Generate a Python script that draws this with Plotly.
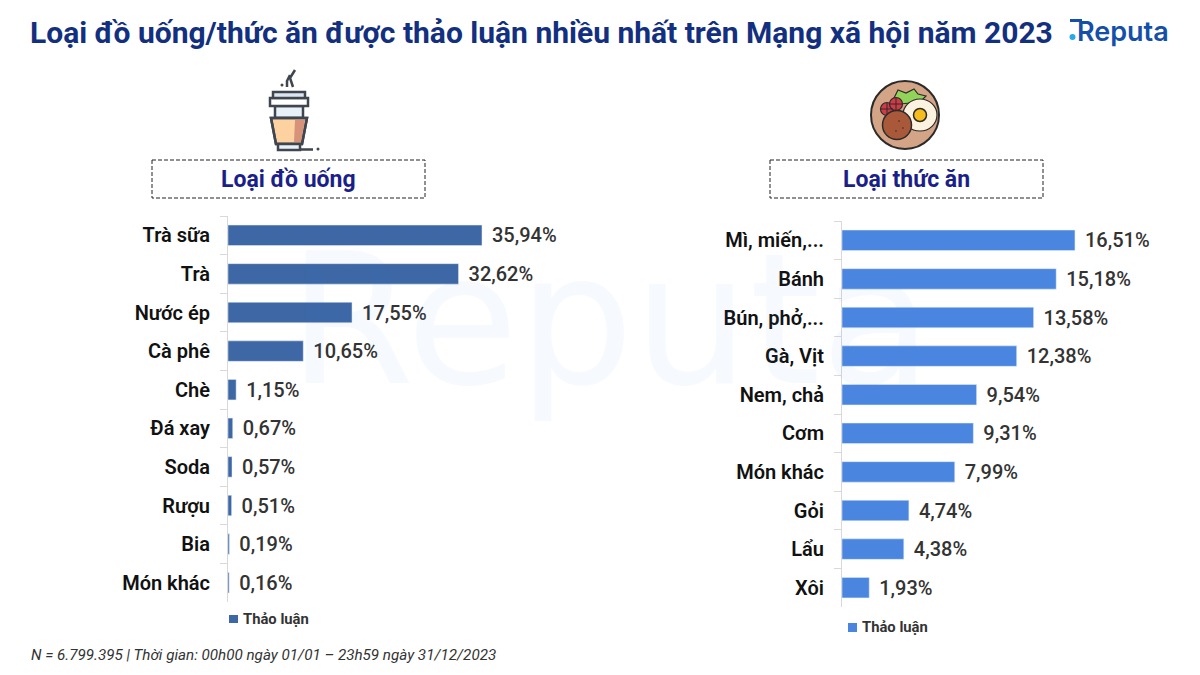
import plotly.graph_objects as go
from plotly.subplots import make_subplots

W, H = 1200, 675

drink_names = ["Trà sữa", "Trà", "Nước ép", "Cà phê", "Chè", "Đá xay", "Soda", "Rượu", "Bia", "Món khác"]
drink_values = [35.94, 32.62, 17.55, 10.65, 1.15, 0.67, 0.57, 0.51, 0.19, 0.16]
food_names = ["Mì, miến,...", "Bánh", "Bún, phở,...", "Gà, Vịt", "Nem, chả", "Cơm", "Món khác", "Gỏi", "Lẩu", "Xôi"]
food_values = [16.51, 15.18, 13.58, 12.38, 9.54, 9.31, 7.99, 4.74, 4.38, 1.93]

FONT = "Roboto"
NAVY = "#12307f"
DRINK_BLUE = "#3d67a5"
FOOD_BLUE = "#4a86e0"


def px(x):
    return x / W


def py(y):
    return 1 - y / H


def label(v):
    return "\u00a0\u200a" + f"{v:.2f}".replace(".", ",") + "%"


def add_text(fig, x, y, text, size, color, xanchor="center", weight=700, italic=False, family=FONT):
    fig.add_annotation(x=px(x), y=py(y), xref="paper", yref="paper", text=text, showarrow=False,
                       xanchor=xanchor, yanchor="middle", borderpad=0,
                       font=dict(family=family, size=size, color=color, weight=weight,
                                 style="italic" if italic else "normal"))


def rect(fig, x0, y0, x1, y1, fill=None, line=None, width=0, dash=None):
    fig.add_shape(type="rect", xref="paper", yref="paper", x0=px(x0), y0=py(y0), x1=px(x1), y1=py(y1),
                  fillcolor=fill, line=dict(color=line, width=width, dash=dash))


def circle(fig, cx, cy, rx, ry, fill=None, line=None, width=0):
    fig.add_shape(type="circle", xref="paper", yref="paper", x0=px(cx - rx), y0=py(cy - ry),
                  x1=px(cx + rx), y1=py(cy + ry), fillcolor=fill, line=dict(color=line, width=width))


def poly(fig, pts, fill=None, line=None, width=0, closed=True):
    path = "M " + " L ".join(f"{px(x)} {py(y)}" for x, y in pts) + (" Z" if closed else "")
    fig.add_shape(type="path", xref="paper", yref="paper", path=path, fillcolor=fill,
                  line=dict(color=line, width=width))


fig = make_subplots(rows=1, cols=2)

fig.add_trace(go.Bar(x=drink_values, y=drink_names, orientation="h", name="Thảo luận",
                     marker_color=DRINK_BLUE, text=[label(v) for v in drink_values],
                     textposition="outside", cliponaxis=False), row=1, col=1)
fig.add_trace(go.Bar(x=food_values, y=food_names, orientation="h", name="Thảo luận",
                     marker_color=FOOD_BLUE, text=[label(v) for v in food_values],
                     textposition="outside", cliponaxis=False), row=1, col=2)
fig.update_traces(textfont=dict(family=FONT, size=20, color="#333333", weight=500), width=0.53,
                  constraintext="none")

# axes placed so that the zero lines sit at 228px and 842px
fig.update_xaxes(visible=False, fixedrange=True)
fig.update_layout(
    xaxis=dict(domain=[px(228), px(560)], range=[0, 332 / 7.067]),
    xaxis2=dict(domain=[px(842), px(1190)], range=[0, 348 / 14.11]),
    yaxis=dict(domain=[py(602), py(216)]),
    yaxis2=dict(domain=[py(607), py(221)]),
)
fig.update_yaxes(autorange="reversed", showline=True, linecolor="#d9d9d9", linewidth=1,
                 ticks="outside", tickson="boundaries", ticklen=7, tickcolor="#d9d9d9",
                 showgrid=False, zeroline=False, ticklabelstandoff=13, fixedrange=True,
                 tickfont=dict(family=FONT, size=20, color="#111111", weight=600))

# title and headings
add_text(fig, 541, 32, "Loại đồ uống/thức ăn được thảo luận nhiều nhất trên Mạng xã hội năm 2023", 30, NAVY)
rect(fig, 152, 160, 425, 198, line="#222222", width=1, dash="4px,2px")
rect(fig, 770, 160, 1043, 198, line="#222222", width=1, dash="4px,2px")
add_text(fig, 288.5, 179, "Loại đồ uống", 23, "#1b1f8a")
add_text(fig, 906.5, 179, "Loại thức ăn", 23, "#1b1f8a")
add_text(fig, 30, 655, "N = 6.799.395 | Thời gian: 00h00 ngày 01/01 – 23h59 ngày 31/12/2023", 15.2, "#333333",
         xanchor="left", weight=400, italic=True)

# legends
rect(fig, 229, 615, 238, 623, fill=DRINK_BLUE)
add_text(fig, 242, 619, "Thảo luận", 14.8, "#333333", xanchor="left")
rect(fig, 848, 623, 857, 632, fill=FOOD_BLUE)
add_text(fig, 861, 627, "Thảo luận", 14.8, "#333333", xanchor="left")

# watermark
add_text(fig, 610, 320, "Reputa", 182, "rgba(70,130,230,0.05)", weight=400, family="DejaVu Sans")

# logo
add_text(fig, 1076, 31, "Reputa", 27, "#1450a8", xanchor="left", weight=600, family="Inter")
rect(fig, 1070, 19, 1082, 22, fill="#1450a8")
circle(fig, 1072.5, 37, 3, 3, fill="#2aa9e8")

# coffee cup icon
CUP = "#3f4650"
rect(fig, 275, 106, 303, 118, fill="#e8f0f8", line=CUP, width=2.5)
poly(fig, [(271, 118), (307, 118), (302, 144), (276, 144)], fill="#fdd2a0", line=CUP, width=2.5)
poly(fig, [(295, 120), (305, 120), (301, 142), (294, 142)], fill="#d6937a")
poly(fig, [(271, 118), (307, 118), (302, 144), (276, 144)], line=CUP, width=2.5)
rect(fig, 270, 98, 308, 106, fill="#ffffff", line=CUP, width=2.5)
rect(fig, 273, 92, 305, 98, fill="#dde6f0", line=CUP, width=2.5)
rect(fig, 278, 144, 300, 150, fill="#e8f0f8", line=CUP, width=2.5)
poly(fig, [(300, 149.5), (313, 149.5)], line=CUP, width=2.5, closed=False)
circle(fig, 318, 149, 1.5, 1.5, fill=CUP)
circle(fig, 282, 85, 1.5, 1.5, fill=CUP)
poly(fig, [(287, 87), (287, 81), (290, 75)], line=CUP, width=2.5, closed=False)
poly(fig, [(293, 87), (290, 78), (295, 70)], line=CUP, width=2.5, closed=False)

# plate icon
OUT = "#2b2b2b"
circle(fig, 905, 115, 34, 34, fill="#d4a486", line=OUT, width=2)
poly(fig, [(893, 100), (898, 90), (906, 93), (914, 89), (918, 94), (926, 96), (920, 102), (900, 104)],
     fill="#92d35a", line=OUT, width=1.2)
circle(fig, 887, 109, 6.5, 6.5, fill="#d43a45", line=OUT, width=1.2)
circle(fig, 896, 104, 6.5, 6.5, fill="#d43a45", line=OUT, width=1.2)
poly(fig, [(887, 103), (887, 115)], line=OUT, width=1, closed=False)
poly(fig, [(881, 109), (893, 109)], line=OUT, width=1, closed=False)
poly(fig, [(896, 98), (896, 110)], line=OUT, width=1, closed=False)
poly(fig, [(890, 104), (902, 104)], line=OUT, width=1, closed=False)
circle(fig, 920, 115, 17, 16, fill="#fbf3df", line=OUT, width=1.2)
circle(fig, 920, 115, 6.5, 6.5, fill="#f7bd1c", line=OUT, width=1.5)
circle(fig, 897, 125, 14.5, 14.5, fill="#a9593a", line=OUT, width=1.5)
circle(fig, 899, 121, 0.8, 0.8, fill=OUT)
circle(fig, 903, 128, 0.8, 0.8, fill=OUT)
circle(fig, 896, 131, 0.8, 0.8, fill=OUT)

fig.update_layout(
    width=W, height=H, margin=dict(l=0, r=0, t=0, b=0), autosize=False,
    paper_bgcolor="white", plot_bgcolor="white", bargap=0.47,
    showlegend=False,
)

fig.write_html("out.html", config={"displayModeBar": False}, post_script="document.body.style.margin='0';")
